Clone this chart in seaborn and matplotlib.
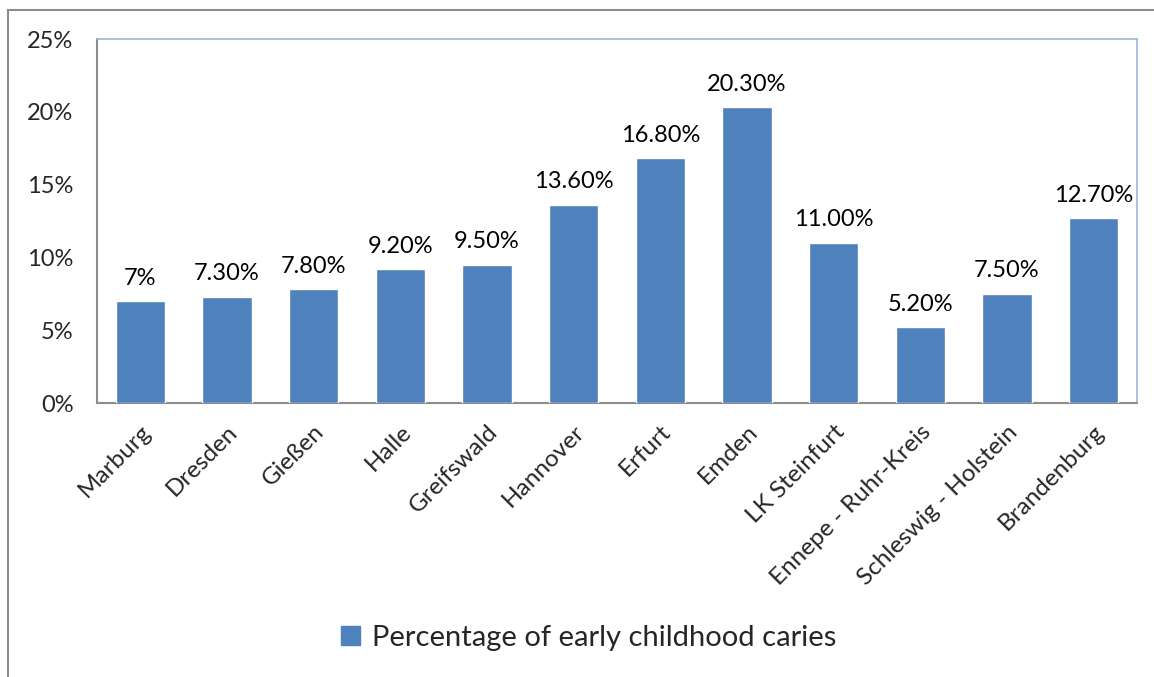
import matplotlib
matplotlib.use("Agg")
import matplotlib.pyplot as plt
import matplotlib.patches as mpatches
import seaborn as sns
import pandas as pd

# ---------- data ----------
cities = ["Marburg", "Dresden", "Gießen", "Halle", "Greifswald", "Hannover",
          "Erfurt", "Emden", "LK Steinfurt", "Ennepe - Ruhr-Kreis",
          "Schleswig - Holstein", "Brandenburg"]
caries_pct = [7.0, 7.3, 7.8, 9.2, 9.5, 13.6, 16.8, 20.3, 11.0, 5.2, 7.5, 12.7]
bar_labels = ["7%", "7.30%", "7.80%", "9.20%", "9.50%", "13.60%", "16.80%",
              "20.30%", "11.00%", "5.20%", "7.50%", "12.70%"]
y_ticks = [0, 5, 10, 15, 20, 25]
series_name = "Percentage of early childhood caries"

BLUE = "#4F81BD"

sns.set_theme(style="white")
plt.rcParams["font.family"] = ["Lato", "DejaVu Sans"]

df = pd.DataFrame({"city": cities, "pct": caries_pct})

fig = plt.figure(figsize=(11.54, 6.77), dpi=100)
ax = fig.add_axes([97 / 1154, 1 - 403 / 677, 1040 / 1154, 364 / 677])

sns.barplot(data=df, x="city", y="pct", color=BLUE, width=0.57,
            saturation=1, ax=ax, zorder=3)

# value labels above bars
for i, (v, lab) in enumerate(zip(caries_pct, bar_labels)):
    ax.annotate(lab, (i, v), xytext=(0, 9), textcoords="offset points",
                ha="center", va="bottom", fontsize=17, color="black")

ax.set_ylim(0, 25)
ax.set_xlim(-0.5, len(cities) - 0.5)
ax.set_yticks(y_ticks)
ax.set_yticklabels([f"{t}%" for t in y_ticks], fontsize=17)
ax.set_xticks(range(len(cities)))
ax.set_xticklabels(cities, rotation=45, ha="right", rotation_mode="anchor",
                   fontsize=17.5)
ax.tick_params(axis="y", pad=17, length=0)
ax.tick_params(axis="x", pad=13, length=0)
ax.set_xlabel("")
ax.set_ylabel("")

for side in ["left", "bottom"]:
    ax.spines[side].set_color("#8C8C8C")
    ax.spines[side].set_linewidth(1.5)
for side in ["top", "right"]:
    ax.spines[side].set_color("#9DB5DE")
    ax.spines[side].set_linewidth(1.2)

# legend
handle = mpatches.Patch(color=BLUE, label=series_name)
fig.legend(handles=[handle], loc="center", bbox_to_anchor=(0.51, 1 - 638 / 677),
           frameon=False, fontsize=21, handlelength=0.65, handleheight=0.65,
           handletextpad=0.4)

# outer chart border (left/top visible)
fig.add_artist(mpatches.Rectangle((8 / 1154, -0.05), 1.2, 1 - 10 / 677 + 0.05,
                                  transform=fig.transFigure, fill=False,
                                  edgecolor="#8C8C8C", linewidth=1.5))

fig.savefig("out.png", dpi=100, facecolor="white")
